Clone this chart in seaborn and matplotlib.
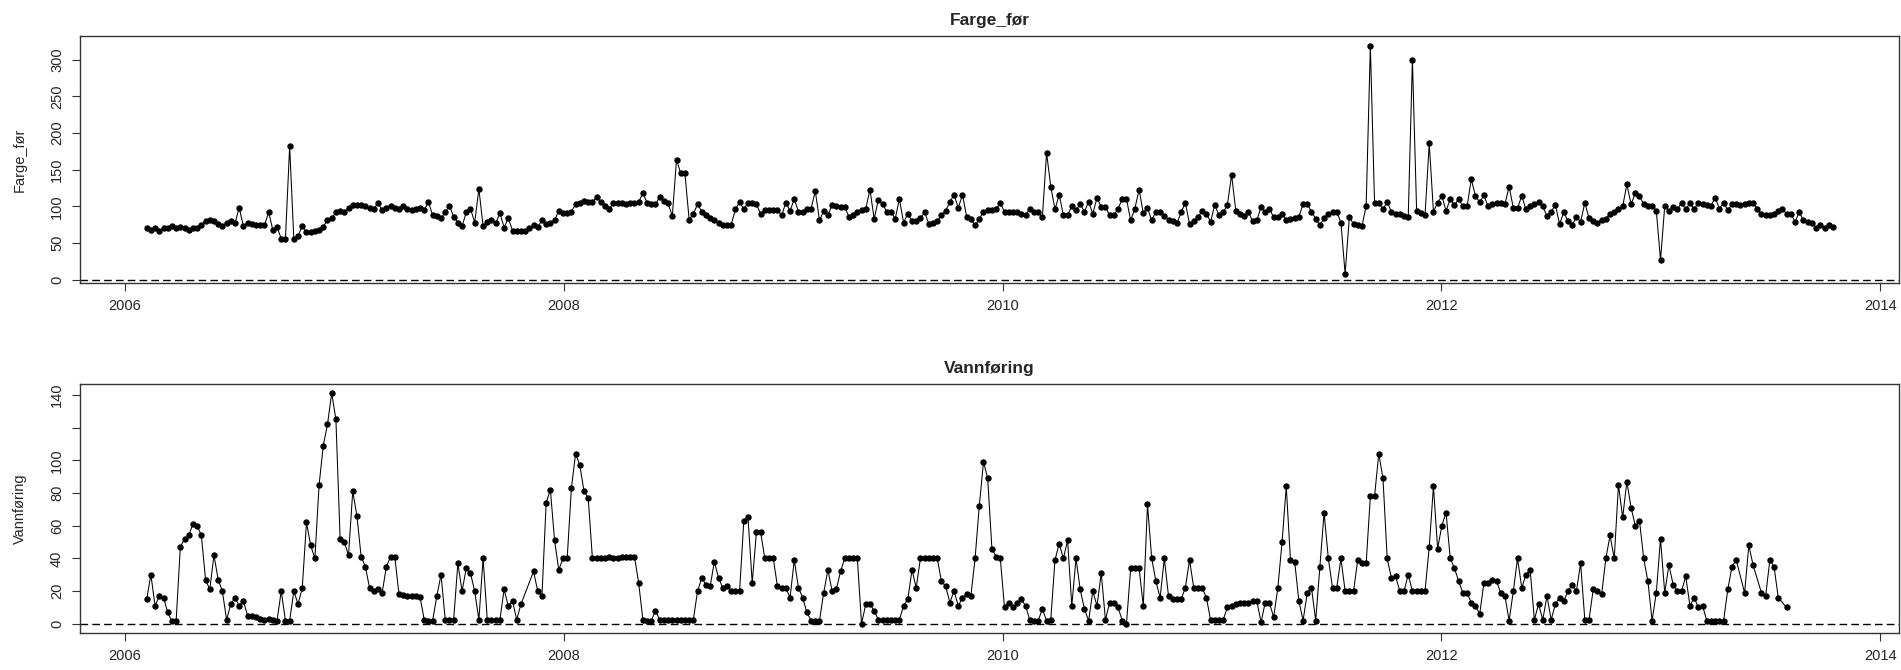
import numpy as np
import pandas as pd
import matplotlib
matplotlib.use('Agg')
import matplotlib.pyplot as plt
import seaborn as sns

nan = np.nan

# Ukentlige målinger, første måling
START = '2006-02-06'

farge_for = [
    70, 68, 70, 67, 70, 71, 73, 71, 72, 70,
    68, 70, 70, 75, 80, 82, 80, 76, 73, 77,
    80, 77, 98, 73, 78, 76, 74, 74, 74, 92,
    68, 72, 56, 56, 182, 55, 60, 73, 65, 65,
    66, 68, 72, 82, 84, 92, 94, 93, 98, 102,
    102, 102, 101, 98, 97, 104, 95, 98, 101, 98,
    96, 100, 97, 95, 96, 98, 95, 106, 88, 87,
    84, 92, 101, 86, 78, 73, 92, 97, 78, 124,
    73, 79, 81, 77, 91, 71, 84, 67, 67, 66,
    66, 70, 74, 72, 81, 76, 78, 81, 94, 91,
    91, 93, 103, 105, 107, 106, 106, 113, 106, 101,
    97, 104, 104, 104, 103, 104, 104, 106, 118, 105,
    103, 103, 113, 108, 104, 87, 164, 145, 145, 82,
    90, 103, 93, 88, 84, 81, 77, 75, 75, 75,
    96, 106, 96, 105, 105, 103, 90, 95, 95, 95,
    95, 88, 105, 94, 110, 93, 93, 97, 97, 121,
    81, 94, 88, 102, 100, 99, 99, 86, 88, 92,
    95, 97, 123, 83, 109, 103, 93, 93, 83, 110,
    78, 90, 80, 80, 84, 92, 76, 78, 80, 88,
    94, 106, 116, 98, 116, 86, 83, 74, 83, 93,
    95, 95, 97, 104, 93, 93, 93, 93, 90, 88,
    97, 92, 92, 85, 173, 127, 96, 116, 88, 88,
    100, 95, 103, 93, 106, 90, 112, 99, 99, 88,
    88, 97, 110, 110, 81, 97, 123, 91, 98, 81,
    93, 93, 87, 82, 80, 77, 92, 105, 76, 80,
    85, 94, 90, 79, 102, 88, 92, 102, 143, 94,
    90, 87, 92, 80, 81, 99, 92, 97, 85, 85,
    90, 81, 83, 84, 86, 103, 103, 93, 83, 74,
    84, 90, 92, 93, 78, 8, 85, 76, 75, 73,
    101, 319, 104, 105, 96, 106, 93, 90, 89, 87,
    85, 300, 94, 91, 88, 186, 93, 105, 114, 94,
    110, 102, 110, 100, 100, 137, 114, 106, 115, 100,
    103, 104, 105, 103, 127, 98, 98, 114, 96, 101,
    103, 106, 100, 87, 93, 102, 76, 92, 80, 74,
    86, 79, 105, 84, 80, 78, 82, 83, 90, 93,
    96, 100, 130, 103, 118, 114, 103, 101, 101, 94,
    27, 100, 94, 99, 96, 105, 96, 105, 96, 105,
    103, 102, 101, 112, 97, 105, 95, 103, 103, 102,
    103, 105, 105, 97, 90, 88, 88, 90, 94, 96,
    90, 90, 79, 92, 81, 79, 77, 71, 74, 71,
    74, 72,
]

vannforing = [
    15, 30, 11, 17, 16, 7, 1.5, 1.5, 47, 52,
    54, 61, 60, 54, 27, 21, 42, 27, 20, 2.5,
    12, 16, 11, 14, 5, 4.5, 4, 3, 2.5, 3,
    2.5, 2, 20, 2, 2, 20, 12, 22, 62, 48,
    40, 85, 109, 122, 141, 125, 52, 50, 42, 81,
    66, 41, 35, 22, 20, 21, 19, 35, 41, 41,
    18, 17.5, 17, 17, 17, 16.5, 2.5, 2, 2, 17,
    30, 2.5, 2.5, 2.5, 37, 20, 34, 31, 20, 2.5,
    40, 2.5, 2.5, 2.5, 2.5, 21, 11, 14, 2.5, 12,
    nan, nan, 32, 20, 17, 74, 82, 51, 33, 40,
    40, 83, 104, 97, 81, 77, 40, 40, 40, 40.5,
    41, 40.5, 40, 41, 41, 41, 41, 25, 2.5, 2,
    2, 8, 2.5, 2.5, 2.5, 2.5, 2.5, 2.5, 2.5, 2.5,
    2.5, 20, 28, 24, 23, 38, 28, 22, 23, 20,
    20, 20, 63, 65, 25, 56, 56, 40, 40, 40,
    23, 22, 22, 16, 39, 22, 16, 7, 2, 2,
    2, 19, 33, 20, 21, 32, 40, 40, 40, 40,
    0, 12, 12, 8, 2.5, 2.5, 2.5, 2.5, 2.5, 2.5,
    11, 15, 33, 22, 40, 40, 40, 40, 40, 26,
    23, 13, 20, 11, 16, 18, 17, 40, 72, 99,
    89, 46, 41, 40, 10, 13, 10, 13, 15, 11,
    2.5, 2, 2, 9, 2, 2.5, 39, 49, 40, 51,
    11, 40, 21, 9, 2, 20, 11, 31, 2.5, 13,
    13, 10, 2, 0, 34, 34, 34, 11, 73, 40,
    26, 16, 40, 17, 15, 15, 15, 22, 39, 22,
    22, 22, 16, 2.5, 2.5, 2.5, 2.5, 10, 11, 12,
    13, 13, 13, 14, 14, 1, 13, 13, 4, 22,
    50, 84, 39, 38, 14, 2, 19, 22, 2, 35,
    68, 40, 22, 22, 40, 20, 20, 20, 39, 37,
    37, 78, 78, 104, 89, 40, 28, 29, 20, 20,
    30, 20, 20, 20, 20, 47, 84, 46, 60, 68,
    40, 34, 26, 19, 19, 13, 11, 6, 25, 25,
    27, 26, 19, 17, 2, 20, 40, 22, 30, 33,
    2.5, 12, 2.5, 17, 2.5, 12, 16, 14, 20, 24,
    20, 37, 2.5, 2.5, 21, 20, 18, 40, 54, 40,
    85, 65, 87, 71, 60, 63, 40, 26, 2, 19,
    52, 19, 36, 24, 20, 20, 29, 11, 16, 10,
    11, 2, 2, 2, 2, 2, 21, 35, 39, nan,
    19, 48, 36, nan, 19, 17, 39, 35, 16, nan,
    10,
]

aar_ticks = [2006, 2008, 2010, 2012, 2014]
y_ticks_farge = [0, 50, 100, 150, 200, 250, 300]
y_ticks_vann = [0, 20, 40, 60, 80, 100, 120, 140]
y_labels_vann = ['0', '20', '40', '60', '80', '100', '', '140']

sns.set_theme(style='ticks')
plt.rcParams['font.family'] = ['Liberation Sans', 'DejaVu Sans']


def lag_df(verdier):
    datoer = pd.date_range(START, periods=len(verdier), freq='7D')
    df = pd.DataFrame({'dato': datoer, 'verdi': verdier})
    return df.dropna()


def tegn_panel(ax, df, navn, yticks, ylabels, ylim):
    sns.lineplot(data=df, x='dato', y='verdi', ax=ax, color='black',
                 marker='o', markersize=4.6, markeredgewidth=0,
                 linewidth=0.75, estimator=None, sort=False)
    ax.axhline(0, color='black', linewidth=1.0, dashes=(5.5, 3))
    ax.set_xlim(pd.Timestamp('2005-10-18'), pd.Timestamp('2014-02-01'))
    ax.set_ylim(*ylim)
    ax.set_xticks([pd.Timestamp(f'{a}-01-01') for a in aar_ticks])
    ax.set_xticklabels([str(a) for a in aar_ticks], fontsize=10.5)
    ax.set_yticks(yticks)
    ax.set_yticklabels(ylabels, fontsize=10.5, rotation=90, va='center')
    ax.set_xlabel('')
    ax.set_ylabel(navn, fontsize=10.5)
    ax.yaxis.set_label_coords(-0.029, 0.5)
    ax.set_title(navn, fontsize=12.5, fontweight='bold', pad=8)
    ax.tick_params(axis='both', length=5.5, width=0.8, color='#333333', pad=6)
    for s in ax.spines.values():
        s.set_color('#333333')
        s.set_linewidth(1.0)


fig = plt.figure(figsize=(19.01, 6.70), dpi=100)
ax1 = fig.add_axes([80 / 1901, 1 - 283 / 670, 1819 / 1901, 247 / 670])
ax2 = fig.add_axes([80 / 1901, 1 - 633 / 670, 1819 / 1901, 249 / 670])

tegn_panel(ax1, lag_df(farge_for), 'Farge_før', y_ticks_farge,
           [str(v) for v in y_ticks_farge], (-4.5, 332.5))
tegn_panel(ax2, lag_df(vannforing), 'Vannføring', y_ticks_vann,
           y_labels_vann, (-5.6, 146.6))

fig.savefig('out.png', dpi=100)
